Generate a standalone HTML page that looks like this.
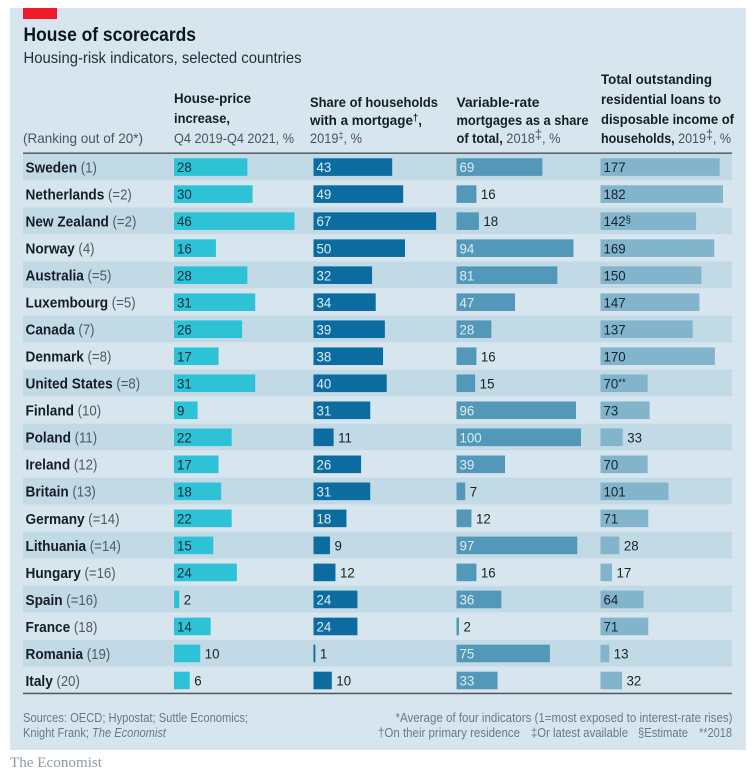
<!DOCTYPE html>
<html lang="en">
<head>
<meta charset="utf-8">
<title>House of scorecards</title>
<style>
html,body{margin:0;padding:0;background:#fff;}
body{width:756px;height:775px;overflow:hidden;}
svg{display:block;font-family:"Liberation Sans",sans-serif;}
text{white-space:pre;}
.hb{font-weight:bold;fill:#141f26;font-size:14px;}
.hr{font-weight:normal;fill:#47555e;font-size:14px;}
.note{fill:#6a7983;font-size:13px;}
</style>
</head>
<body>
<svg id="chart" xmlns="http://www.w3.org/2000/svg" width="756" height="775" viewBox="0 0 756 775">
  <defs><filter id="soft" x="0" y="0" width="100%" height="100%"><feGaussianBlur stdDeviation="0.3"/></filter></defs>
  <g id="root" filter="url(#soft)">
    <rect x="10" y="8" width="736" height="742" fill="#d7e5ee"/>
    <rect x="23" y="8" width="34" height="11" fill="#ee1c25"/>
    <text x="23.5" y="41" font-size="19" font-weight="bold" fill="#0f181e" textLength="172.5" lengthAdjust="spacingAndGlyphs">House of scorecards</text>
    <text x="23.5" y="63" font-size="16" fill="#232f37" textLength="278" lengthAdjust="spacingAndGlyphs">Housing-risk indicators, selected countries</text>

    <text class="hr" x="23" y="143" textLength="120" lengthAdjust="spacingAndGlyphs">(Ranking out of 20*)</text>

    <g>
      <text class="hb" x="174" y="103" textLength="77" lengthAdjust="spacingAndGlyphs">House-price</text>
      <text class="hb" x="174" y="123" textLength="56" lengthAdjust="spacingAndGlyphs">increase,</text>
      <text class="hr" x="174" y="143" textLength="120" lengthAdjust="spacingAndGlyphs">Q4 2019-Q4 2021, %</text>
    </g>
    <g>
      <text class="hb" x="310" y="107" textLength="128" lengthAdjust="spacingAndGlyphs">Share of households</text>
      <text class="hb" x="310" y="125" textLength="112" lengthAdjust="spacingAndGlyphs">with a mortgage<tspan dy="-4" font-size="10">†</tspan><tspan dy="4">,</tspan></text>
      <text class="hr" x="310" y="143" textLength="52" lengthAdjust="spacingAndGlyphs">2019<tspan dy="-4" font-size="10">‡</tspan><tspan dy="4">, %</tspan></text>
    </g>
    <g>
      <text class="hb" x="456.5" y="107" textLength="83" lengthAdjust="spacingAndGlyphs">Variable-rate</text>
      <text class="hb" x="456.5" y="125" textLength="132" lengthAdjust="spacingAndGlyphs">mortgages as a share</text>
      <text x="456.5" y="143" font-size="14" textLength="104" lengthAdjust="spacingAndGlyphs"><tspan class="hb">of total,</tspan><tspan class="hr"> 2018</tspan><tspan class="hr" dy="-4" font-size="10">‡</tspan><tspan class="hr" dy="4">, %</tspan></text>
    </g>
    <g>
      <text class="hb" x="601" y="84" textLength="111" lengthAdjust="spacingAndGlyphs">Total outstanding</text>
      <text class="hb" x="601" y="104" textLength="120" lengthAdjust="spacingAndGlyphs">residential loans to</text>
      <text class="hb" x="601" y="124" textLength="133" lengthAdjust="spacingAndGlyphs">disposable income of</text>
      <text x="601" y="143" font-size="14" textLength="130" lengthAdjust="spacingAndGlyphs"><tspan class="hb">households,</tspan><tspan class="hr"> 2019</tspan><tspan class="hr" dy="-4" font-size="10">‡</tspan><tspan class="hr" dy="4">, %</tspan></text>
    </g>

    <g id="bands"></g>
    <rect x="23" y="152.5" width="709" height="1.3" fill="#3f4b52"/>
    <rect x="23" y="692.7" width="709" height="1.5" fill="#4c5860"/>
    <g id="rows"></g>

    <text class="note" x="23" y="722" textLength="225" lengthAdjust="spacingAndGlyphs">Sources: OECD; Hypostat; Suttle Economics;</text>
    <text class="note" x="23" y="737" textLength="143" lengthAdjust="spacingAndGlyphs">Knight Frank; <tspan font-style="italic">The Economist</tspan></text>
    <text class="note" x="395.5" y="722" textLength="337" lengthAdjust="spacingAndGlyphs">*Average of four indicators (1=most exposed to interest-rate rises)</text>
    <text class="note" x="378" y="737" textLength="142" lengthAdjust="spacingAndGlyphs">†On their primary residence</text>
    <text class="note" x="531" y="737" textLength="97" lengthAdjust="spacingAndGlyphs">‡Or latest available</text>
    <text class="note" x="638" y="737" textLength="50" lengthAdjust="spacingAndGlyphs">§Estimate</text>
    <text class="note" x="699" y="737" textLength="33" lengthAdjust="spacingAndGlyphs">**2018</text>

    <text x="10" y="767" font-family="'Liberation Serif',serif" font-size="15" fill="#8d9aa2" textLength="92" lengthAdjust="spacingAndGlyphs">The Economist</text>
  </g>
</svg>
<script>
const countries = ["Sweden","Netherlands","New Zealand","Norway","Australia","Luxembourg","Canada","Denmark","United States","Finland","Poland","Ireland","Britain","Germany","Lithuania","Hungary","Spain","France","Romania","Italy"];
const ranks = ["(1)","(=2)","(=2)","(4)","(=5)","(=5)","(7)","(=8)","(=8)","(10)","(11)","(12)","(13)","(=14)","(=14)","(=16)","(=16)","(18)","(19)","(20)"];
const housePrice = [28,30,46,16,28,31,26,17,31,9,22,17,18,22,15,24,2,14,10,6];
const mortgageShare = [43,49,67,50,32,34,39,38,40,31,11,26,31,18,9,12,24,24,1,10];
const variableRate = [69,16,18,94,81,47,28,16,15,96,100,39,7,12,97,16,36,2,75,33];
const loans = [177,182,142,169,150,147,137,170,70,73,33,70,101,71,28,17,64,71,13,32];
const loanSuffix = {2:"§",8:"**"};
const forcedInsideCountries = ["Finland"];

const NS = "http://www.w3.org/2000/svg";
const bandsG = document.getElementById("bands");
const rowsG = document.getElementById("rows");
const rowY = i => 153.5 + i * 27.02;
const cols = [
  {key:"house-price", values:housePrice, x0:174, k:2.62, fill:"#2fc2d7", inside:"#0f2f3a", force:true},
  {key:"mortgage-share", values:mortgageShare, x0:313.5, k:1.83, fill:"#0b6c9f", inside:"#dcedf5", force:false},
  {key:"variable-rate", values:variableRate, x0:456.5, k:1.245, fill:"#5298b8", inside:"#dcedf4", force:false},
  {key:"loans", values:loans, x0:600.5, k:0.673, fill:"#82b4cb", inside:"#12262f", force:false}
];
function mk(tag, attrs, parent){
  const e = document.createElementNS(NS, tag);
  for (const a in attrs) e.setAttribute(a, attrs[a]);
  parent.appendChild(e);
  return e;
}
countries.forEach((name, i) => {
  const y = rowY(i);
  if (i % 2 === 0) {
    const band = mk("rect", {x:23, y:y, width:709, height:26.6, fill:"#c2d9e6"}, bandsG);
    
    
  }
  const label = mk("text", {transform:"translate(25.5 " + (y + 19) + ") scale(0.91 1)", "font-size":"15"}, rowsG);
  
  
  const n = mk("tspan", {"font-weight":"bold", fill:"#141f26"}, label);
  n.textContent = name;
  const r = mk("tspan", {fill:"#4d5b64", "font-size":"14.5"}, label);
  r.textContent = " " + ranks[i];
  cols.forEach((c, j) => {
    const v = c.values[i];
    const w = v * c.k;
    const bar = mk("rect", {x:c.x0, y:y + 4.8, width:w, height:17.6, fill:c.fill}, rowsG);
    
    
    const isInside = w >= 30 || (c.force && forcedInsideCountries.includes(name));
    const tx = isInside ? c.x0 + 3 : c.x0 + w + 4.5;
    const txt = mk("text", {transform:"translate(" + tx + " " + (y + 18.7) + ") scale(0.95 1)", "font-size":"14", fill:isInside ? c.inside : "#172228"}, rowsG);
    
    
    txt.appendChild(document.createTextNode(String(v)));
    if (j === 3 && loanSuffix[i]) {
      const s = mk("tspan", {"font-size":"10", dy:"-3"}, txt);
      s.textContent = loanSuffix[i];
    }
  });
});
</script>
</body>
</html>
